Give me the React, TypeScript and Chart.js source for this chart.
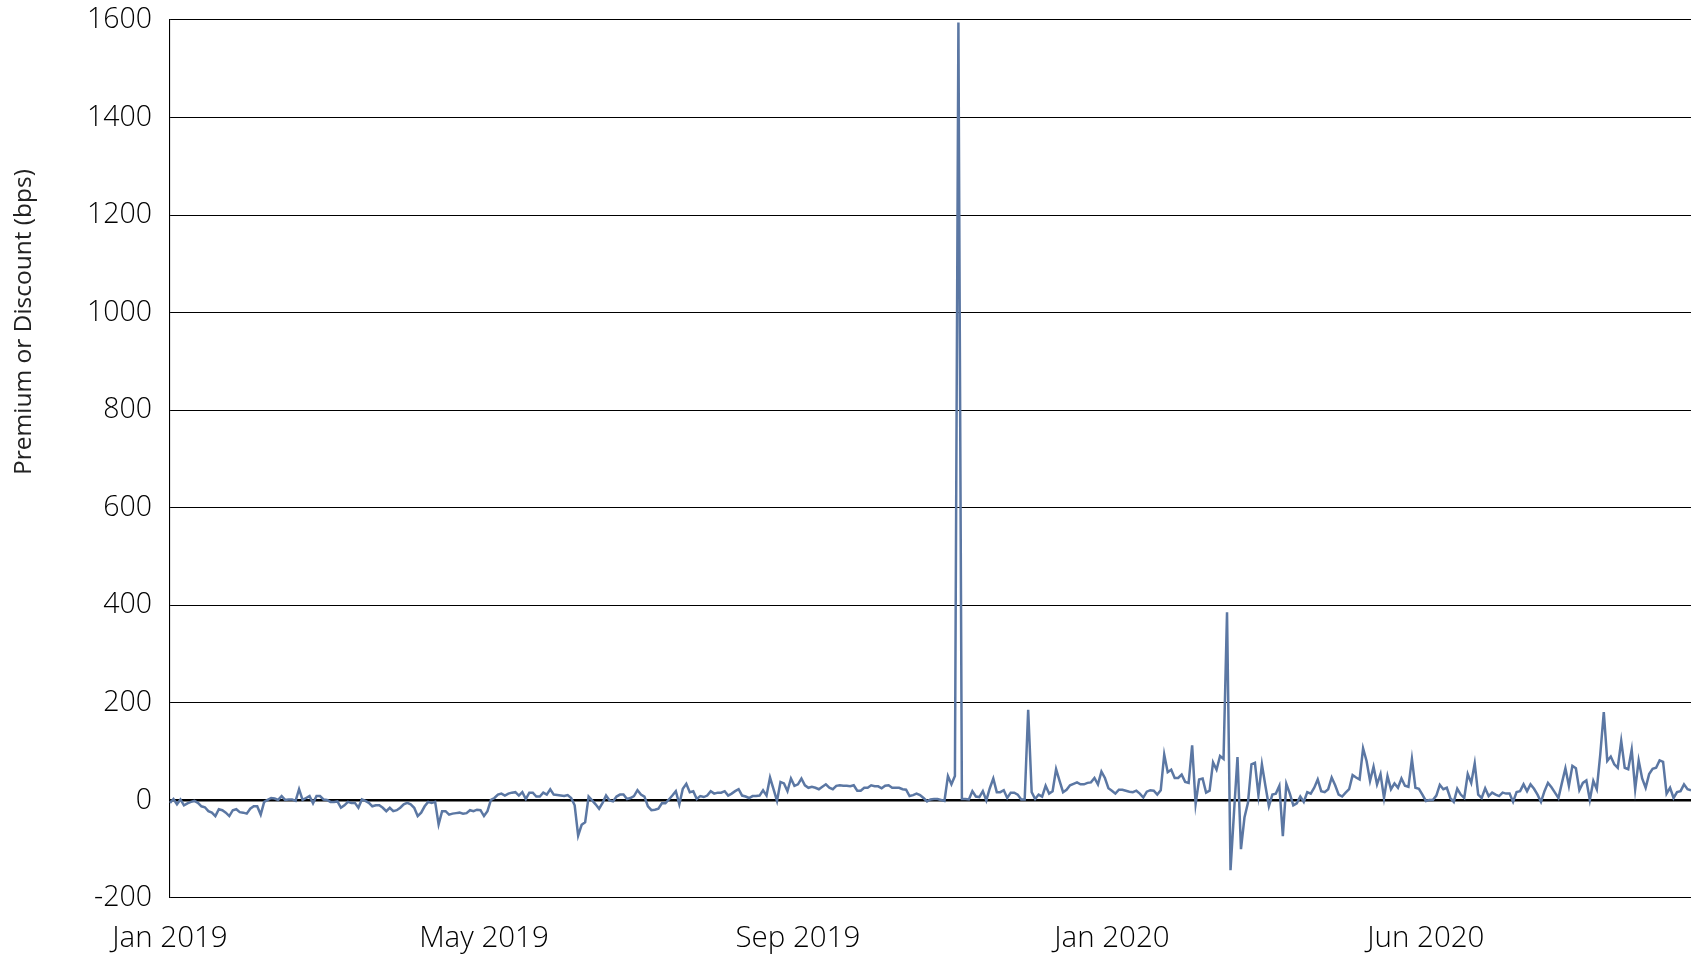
import React, { useEffect, useRef } from "react";
import { Chart, registerables } from "chart.js";

Chart.register(...registerables);

const xTickLabels = ["Jan 2019", "May 2019", "Sep 2019", "Jan 2020", "Jun 2020"];
const xTickIndex = [0, 90, 180, 270, 360];
const yTitle = "Premium or Discount (bps)";

// Daily premium / discount in basis points (trading days, Jan 2019 onwards)
const premiumBps = [
  -5, 3, -8, 2, -10, -6, -3, -1, -5, -12,
  -14, -22, -25, -32, -18, -20, -25, -32, -20, -18,
  -24, -25, -27, -17, -12, -12, -29, -3, 1, 5,
  4, 1, 9, 1, 2, 2, -1, 23, 1, 5,
  9, -6, 9, 9, 2, 1, -3, -3, -2, -15,
  -10, -3, -5, -5, -15, 2, -1, -5, -12, -10,
  -10, -15, -22, -15, -22, -20, -15, -8, -5, -8,
  -15, -32, -25, -12, -3, -5, -3, -49, -22, -22,
  -29, -27, -26, -25, -27, -26, -20, -22, -19, -20,
  -32, -22, 1, 5, 12, 14, 10, 14, 16, 17,
  10, 17, 3, 16, 16, 8, 8, 16, 12, 23,
  12, 11, 10, 9, 11, 5, -10, -72, -50, -45,
  8, 0, -8, -17, -5, 10, 0, -2, 8, 12,
  12, 3, 5, 9, 21, 12, 8, -12, -20, -19,
  -17, -6, -6, 2, 10, 19, -8, 24, 34, 17,
  19, 3, 9, 7, 10, 19, 14, 16, 16, 19,
  10, 14, 19, 23, 10, 8, 5, 9, 9, 10,
  21, 10, 47, 23, -1, 38, 35, 19, 45, 30,
  33, 45, 31, 26, 28, 26, 23, 28, 33, 26,
  23, 30, 31, 30, 30, 29, 31, 20, 20, 26,
  26, 31, 29, 29, 25, 30, 31, 26, 26, 26,
  23, 22, 9, 11, 14, 11, 5, -2, 2, 3,
  3, 1, -1, 50, 33, 50, 1595, 3, 3, 2,
  19, 8, 7, 19, 0, 25, 45, 17, 17, 21,
  5, 16, 16, 12, 2, 2, 186, 17, 3, 12,
  8, 30, 14, 19, 64, 40, 17, 22, 31, 34,
  37, 33, 33, 36, 37, 46, 33, 59, 46, 25,
  20, 14, 22, 22, 20, 18, 17, 20, 14, 6,
  18, 21, 20, 12, 21, 94, 58, 63, 46, 46,
  53, 38, 36, 113, -7, 43, 45, 16, 20, 78,
  63, 91, 85, 386, -143, -25, 89, -100, -35, -5,
  74, 77, 11, 74, 30, -12, 12, 14, 30, -73,
  34, 14, -10, -6, 8, -3, 17, 14, 26, 43,
  19, 17, 23, 47, 31, 12, 8, 16, 23, 52,
  47, 43, 107, 81, 40, 69, 33, 54, 5, 50,
  23, 35, 26, 45, 30, 28, 85, 26, 24, 12,
  -1, 1, 1, 10, 32, 23, 26, 5, -3, 24,
  12, 5, 54, 36, 76, 12, 5, 25, 9, 16,
  12, 9, 16, 14, 14, -3, 17, 19, 33, 19,
  33, 24, 12, -3, 19, 36, 27, 16, 5, 36,
  66, 30, 71, 66, 21, 36, 41, 1, 40, 23,
  95, 181, 81, 90, 74, 67, 122, 67, 64, 104,
  23, 82, 45, 26, 54, 65, 67, 82, 79, 14,
  26, 5, 17, 19, 33, 23, 21,
];

const FONT = "'Open Sans', 'Noto Sans', sans-serif";

export default function App() {
  const ref = useRef<HTMLCanvasElement | null>(null);

  useEffect(() => {
    if (!ref.current) return;
    const titlePlugin = {
      id: "yTitle",
      afterDraw(chart: any) {
        const ctx = chart.ctx;
        ctx.save();
        ctx.translate(24, 322);
        ctx.rotate(-Math.PI / 2);
        ctx.font = `400 24.5px ${FONT}`;
        ctx.fillStyle = "#222222";
        ctx.textAlign = "center";
        ctx.textBaseline = "middle";
        ctx.fillText(yTitle, 0, 0);
        ctx.restore();
      },
    };
    const chart = new Chart(ref.current, {
      type: "line",
      data: {
        labels: premiumBps.map((_, i) => String(i)),
        datasets: [
          {
            data: premiumBps,
            borderColor: "#5b77a3",
            borderWidth: 2.5,
            pointRadius: 0,
            tension: 0,
            fill: false,
          },
        ],
      },
      options: {
        animation: false,
        responsive: false,
        maintainAspectRatio: false,
        layout: { padding: { top: 20, right: 0, left: 0, bottom: 0 } },
        plugins: { legend: { display: false }, tooltip: { enabled: false } },
        scales: {
          x: {
            type: "category",
            offset: false,
            grid: { display: false, drawTicks: false },
            border: { display: false },
            ticks: {
              autoSkip: false,
              maxRotation: 0,
              minRotation: 0,
              padding: 23,
              color: "#000000",
              font: { family: FONT, size: 29.5, weight: "300" },
              callback: (_v: any, i: number) => {
                const k = xTickIndex.indexOf(i);
                return k >= 0 ? xTickLabels[k] : null;
              },
            },
            afterFit: (s: any) => {
              s.height = 58;
              s.paddingLeft = 0;
              s.paddingRight = 0;
            },
          },
          y: {
            min: -200,
            max: 1600,
            ticks: {
              stepSize: 200,
              padding: 18,
              color: "#000000",
              font: { family: FONT, size: 28.5, weight: "300" },
              callback: (v: any) => String(v),
            },
            grid: {
              color: "#000000",
              lineWidth: (c: any) => (c.tick && c.tick.value === 0 ? 2.6 : 1.1),
              drawTicks: false,
            },
            border: { display: true, color: "#000000", width: 1.1 },
            afterFit: (s: any) => {
              s.width = 170;
              s.paddingTop = 0;
              s.paddingBottom = 0;
            },
          },
        },
      } as any,
      plugins: [titlePlugin],
    });
    return () => chart.destroy();
  }, []);

  return (
    <>
      <style>{`body{margin:0;}`}</style>
      <canvas ref={ref} width={1691} height={956} style={{ display: "block" }} />
    </>
  );
}
